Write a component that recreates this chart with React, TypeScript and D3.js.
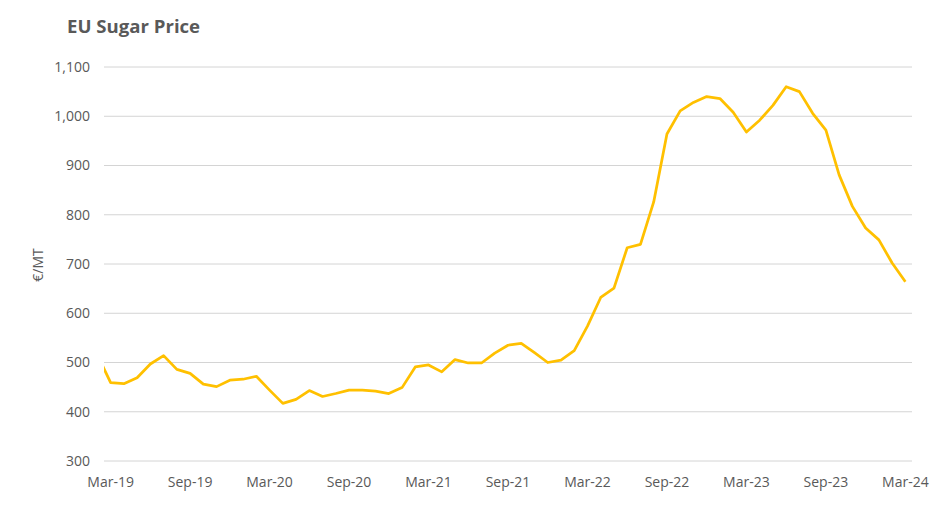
import React from "react";
import * as d3 from "d3";

const months: string[] = [
  "Feb-19","Mar-19","Apr-19","May-19","Jun-19","Jul-19","Aug-19","Sep-19","Oct-19","Nov-19","Dec-19",
  "Jan-20","Feb-20","Mar-20","Apr-20","May-20","Jun-20","Jul-20","Aug-20","Sep-20","Oct-20","Nov-20","Dec-20",
  "Jan-21","Feb-21","Mar-21","Apr-21","May-21","Jun-21","Jul-21","Aug-21","Sep-21","Oct-21","Nov-21","Dec-21",
  "Jan-22","Feb-22","Mar-22","Apr-22","May-22","Jun-22","Jul-22","Aug-22","Sep-22","Oct-22","Nov-22","Dec-22",
  "Jan-23","Feb-23","Mar-23","Apr-23","May-23","Jun-23","Jul-23","Aug-23","Sep-23","Oct-23","Nov-23","Dec-23",
  "Jan-24","Feb-24","Mar-24",
];

const prices: number[] = [
  516, 459, 457, 469, 497, 514, 486, 478, 456, 451, 464,
  466, 472, 444, 417, 425, 443, 431, 437, 444, 444, 442, 437,
  449, 491, 495, 481, 506, 499, 499, 519, 535, 539, 520, 500,
  505, 524, 574, 632, 651, 733, 740, 826, 964, 1011, 1028, 1040,
  1036, 1008, 968, 992, 1022, 1060, 1050, 1006, 972, 881, 817, 773,
  749, 702, 664,
];

const xTickLabels: string[] = [
  "Mar-19","Sep-19","Mar-20","Sep-20","Mar-21","Sep-21","Mar-22","Sep-22","Mar-23","Sep-23","Mar-24",
];

const yTicks: number[] = [300, 400, 500, 600, 700, 800, 900, 1000, 1100];

const title = "EU Sugar Price";
const yTitle = "€/MT";

export default function App() {
  const W = 935, H = 505;
  const left = 104, right = 912, top = 67, bottom = 461;
  const firstIdx = months.indexOf("Mar-19");
  const lastIdx = months.indexOf("Mar-24");

  const x = d3.scaleLinear().domain([firstIdx - 0.5, lastIdx + 0.5]).range([left, right]);
  const y = d3.scaleLinear().domain([300, 1100]).range([bottom, top]);

  const line = d3
    .line<number>()
    .x((_, i) => x(i))
    .y((d) => y(d))
    .curve(d3.curveLinear);

  const font = "'Open Sans', 'Noto Sans', sans-serif";
  const textColor = "#595959";
  const fmt = d3.format(",");

  return (
    <svg width={W} height={H} style={{ position: "absolute", left: 0, top: 0, background: "#fff" }}>
      <defs>
        <clipPath id="plotClip">
          <rect x={left} y={0} width={right - left} height={H} />
        </clipPath>
      </defs>
      <text x={67} y={33} fontFamily={font} fontWeight={700} fontSize={18.6} fill={textColor}>
        {title}
      </text>
      {yTicks.map((t) => (
        <g key={t}>
          <line x1={left} x2={right} y1={y(t)} y2={y(t)} stroke="#d4d4d4" strokeWidth={1} />
          <text
            x={90}
            y={y(t)}
            dy="0.35em"
            textAnchor="end"
            fontFamily={font}
            fontSize={14}
            fill={textColor}
          >
            {fmt(t)}
          </text>
        </g>
      ))}
      <text
        transform={`translate(38,${(top + bottom) / 2 + 1}) rotate(-90)`}
        textAnchor="middle"
        dy="0.35em"
        fontFamily={font}
        fontSize={14}
        fill={textColor}
      >
        {yTitle}
      </text>
      {xTickLabels.map((lab) => (
        <text
          key={lab}
          x={x(months.indexOf(lab))}
          y={487}
          textAnchor="middle"
          fontFamily={font}
          fontSize={14}
          fill={textColor}
        >
          {lab}
        </text>
      ))}
      <path
        d={line(prices) || ""}
        fill="none"
        stroke="#FFC000"
        strokeWidth={2.75}
        strokeLinejoin="round"
        clipPath="url(#plotClip)"
      />
    </svg>
  );
}
